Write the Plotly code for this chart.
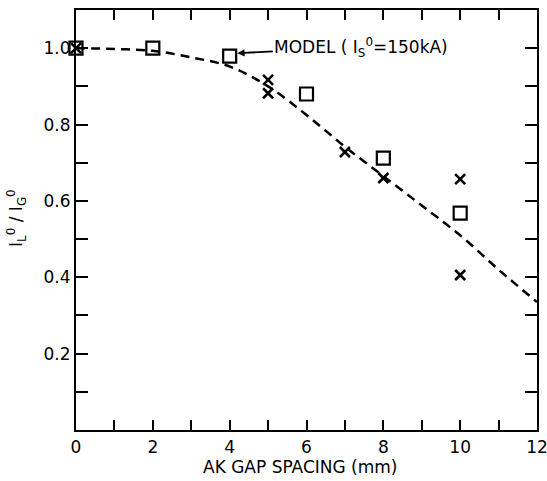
import plotly.graph_objects as go

# Data
model_x = [0, 1, 2, 3, 4, 5, 6, 7, 8, 9, 10, 11, 12]
model_y = [1.0, 0.998, 0.993, 0.976, 0.952, 0.9, 0.825, 0.742, 0.665, 0.588, 0.51, 0.42, 0.335]

square_x = [0, 2, 4, 6, 8, 10]
square_y = [1.0, 1.0, 0.979, 0.88, 0.712, 0.568]

cross_x = [0, 5, 5, 7, 8, 10, 10]
cross_y = [1.0, 0.917, 0.882, 0.728, 0.66, 0.657, 0.406]

x_tickvals = list(range(0, 13))
x_ticktext = [str(v) if v % 2 == 0 else "" for v in x_tickvals]
y_tickvals = [round(0.1 * i, 1) for i in range(0, 12)]
y_ticktext = ["", "", "0.2", "", "0.4", "", "0.6", "", "0.8", "", "1.0", ""]

x_title = "AK GAP SPACING (mm)"
y_title = "I<sub>L</sub><sup>0</sup> / I<sub>G</sub><sup>0</sup>"
model_label = "MODEL ( I<sub>S</sub><sup>0</sup>=150kA)"

FONT = "DejaVu Sans, Liberation Sans, sans-serif"

fig = go.Figure()
fig.add_trace(go.Scatter(
    x=model_x, y=model_y, mode="lines", line_shape="spline",
    line=dict(color="black", width=2.5, dash="9px,6px"),
    showlegend=False, hoverinfo="skip", cliponaxis=False,
))
fig.add_trace(go.Scatter(
    x=square_x, y=square_y, mode="markers",
    marker=dict(symbol="square-open", size=13, color="black", line=dict(width=2.2, color="black")),
    showlegend=False, cliponaxis=False,
))
fig.add_trace(go.Scatter(
    x=cross_x, y=cross_y, mode="markers",
    marker=dict(symbol="x-thin-open", size=10, color="black", line=dict(width=2.6, color="black")),
    showlegend=False, cliponaxis=False,
))

fig.add_annotation(
    x=4.2, y=0.987, xref="x", yref="y",
    text=model_label,
    showarrow=True, arrowhead=2, arrowsize=0.8, arrowwidth=1.8, arrowcolor="black",
    ax=124, ay=-6, font=dict(family=FONT, size=17, color="black"),
)
fig.add_annotation(
    x=0.486, y=-0.088, xref="paper", yref="paper", showarrow=False,
    xanchor="center", yanchor="middle",
    text=x_title, font=dict(family=FONT, size=17, color="black"),
)
fig.add_annotation(
    x=-0.128, y=0.505, xref="paper", yref="paper", showarrow=False, textangle=-90,
    xanchor="center", yanchor="middle",
    text=y_title, font=dict(family=FONT, size=17, color="black"),
)

axis_common = dict(
    showline=True, linecolor="black", linewidth=2.2, mirror="ticks",
    ticks="inside", tickcolor="black", tickwidth=2, showgrid=False, zeroline=False,
    tickfont=dict(family=FONT, size=17, color="black"), automargin=False,
    ticklabeloverflow="allow",
)

fig.update_xaxes(
    range=[0, 12], tickmode="array", tickvals=x_tickvals, ticktext=x_ticktext,
    ticklen=10, **axis_common,
)
fig.update_yaxes(
    range=[0, 1.1], tickmode="array", tickvals=y_tickvals, ticktext=y_ticktext,
    ticklen=12, **axis_common,
)

fig.update_layout(
    width=547, height=481,
    margin=dict(l=76, r=10, t=10, b=51),
    paper_bgcolor="white", plot_bgcolor="white",
)

fig.write_html(
    "out.html",
    config={"displayModeBar": False},
    post_script="document.body.style.margin='0px';document.body.style.overflow='hidden';",
)
